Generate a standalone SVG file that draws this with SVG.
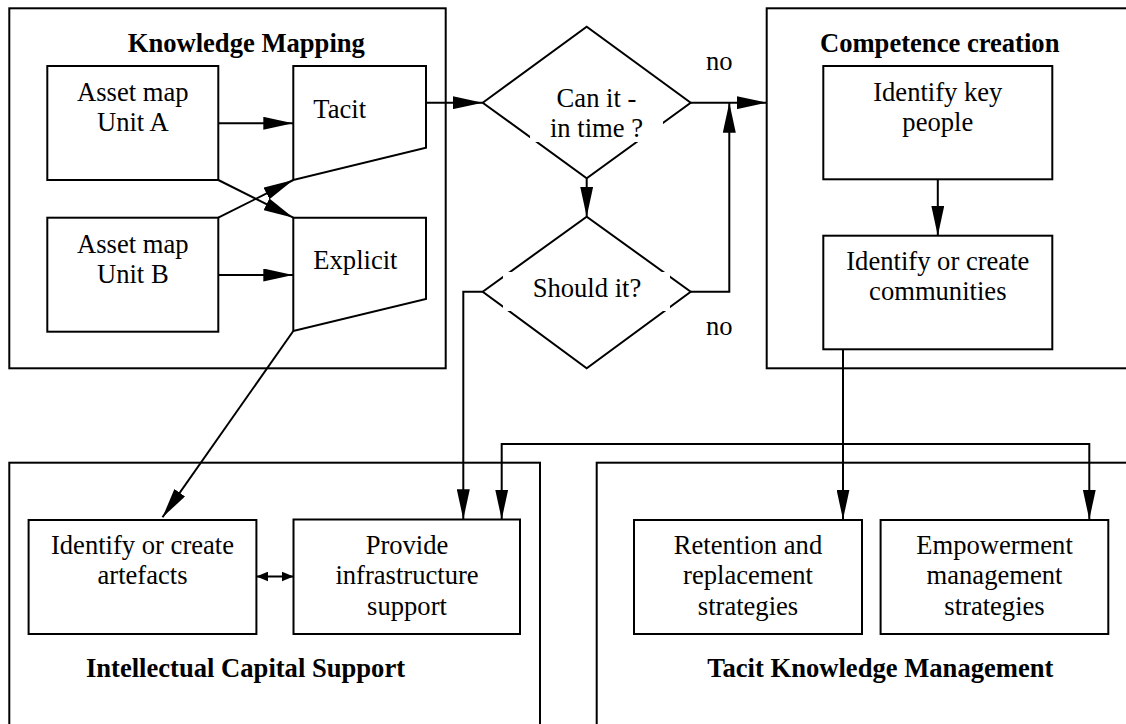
<svg xmlns="http://www.w3.org/2000/svg" width="1126" height="724" viewBox="0 0 1126 724">
  <defs>
    <marker id="arrow" viewBox="0 0 30 13" markerWidth="30" markerHeight="13" refX="30" refY="6.5" orient="auto-start-reverse" markerUnits="userSpaceOnUse">
      <path d="M0,0 L30,6.5 L0,13 Z" fill="#000"/>
    </marker>
    <marker id="arrowSmall" viewBox="0 0 12 10" markerWidth="12" markerHeight="10" refX="12" refY="5" orient="auto-start-reverse" markerUnits="userSpaceOnUse">
      <path d="M0,0 L12,5 L0,10 Z" fill="#000"/>
    </marker>
    <style>
      .frame { fill: none; stroke: #000; stroke-width: 2; }
      .box { fill: #fff; stroke: #000; stroke-width: 2; }
      .mask { fill: #fff; stroke: none; }
      .title { font-family: "Liberation Serif", "Times New Roman", serif; font-size: 26.6px; font-weight: bold; text-anchor: middle; fill: #000; }
      .label { font-family: "Liberation Serif", "Times New Roman", serif; font-size: 26.6px; text-anchor: middle; fill: #000; }
      .left { text-anchor: start; }
      .conn { fill: none; stroke: #000; stroke-width: 2; }
    </style>
  </defs>

  <rect width="1126" height="724" fill="#fff"/>

  <!-- Group frames -->
  <g id="knowledge-mapping">
    <rect class="frame" x="9.3" y="8.3" width="436.4" height="360"/>
    <text class="title" x="246.3" y="51.7">Knowledge Mapping</text>
  </g>
  <g id="competence-creation">
    <rect class="frame" x="766.7" y="8.3" width="400" height="360"/>
    <text class="title" x="939.7" y="51.7">Competence creation</text>
  </g>
  <g id="intellectual-capital-support">
    <rect class="frame" x="9.3" y="462.7" width="530.7" height="300"/>
    <text class="title" x="245.5" y="676.7">Intellectual Capital Support</text>
  </g>
  <g id="tacit-knowledge-management">
    <rect class="frame" x="596.7" y="462.7" width="600" height="300"/>
    <text class="title" x="880.3" y="676.7">Tacit Knowledge Management</text>
  </g>

  <!-- Knowledge mapping nodes -->
  <g id="asset-map-a">
    <rect class="box" x="47.3" y="66" width="171" height="114"/>
    <text class="label" x="132.8" y="101">Asset map</text>
    <text class="label" x="132.8" y="131">Unit A</text>
  </g>
  <g id="asset-map-b">
    <rect class="box" x="47.3" y="217.7" width="171" height="114"/>
    <text class="label" x="132.8" y="252.5">Asset map</text>
    <text class="label" x="132.8" y="283">Unit B</text>
  </g>
  <g id="tacit">
    <polygon class="box" points="293.3,66 426,66 426,147.7 293.3,180"/>
    <text class="label left" x="313.3" y="118.3">Tacit</text>
  </g>
  <g id="explicit">
    <polygon class="box" points="293.3,217.7 426,217.7 426,299 293.3,331"/>
    <text class="label left" x="313.3" y="269.3">Explicit</text>
  </g>

  <!-- Decisions -->
  <g id="can-it-in-time">
    <polygon class="box" points="482.7,102.7 586.7,26.7 690.7,102.7 586.7,178.3"/>
    <rect class="mask" x="530" y="85" width="133" height="57"/>
    <text class="label" x="596.5" y="107.3">Can it -</text>
    <text class="label" x="596.5" y="137">in time ?</text>
  </g>
  <g id="should-it">
    <polygon class="box" points="482.7,291.7 586.7,216.7 690.7,291.7 586.7,368.3"/>
    <rect class="mask" x="503" y="272" width="167" height="39"/>
    <text class="label" x="587" y="297.3">Should it?</text>
  </g>

  <!-- Competence creation nodes -->
  <g id="identify-key-people">
    <rect class="box" x="823.3" y="66" width="229" height="113.3"/>
    <text class="label" x="937.8" y="100.5">Identify key</text>
    <text class="label" x="937.8" y="130.5">people</text>
  </g>
  <g id="identify-communities">
    <rect class="box" x="823.3" y="235.7" width="229" height="113.6"/>
    <text class="label" x="937.8" y="269.5">Identify or create</text>
    <text class="label" x="937.8" y="300">communities</text>
  </g>

  <!-- Intellectual capital support nodes -->
  <g id="identify-artefacts">
    <rect class="box" x="28.6" y="520" width="227.8" height="114"/>
    <text class="label" x="142.5" y="554">Identify or create</text>
    <text class="label" x="142.5" y="584">artefacts</text>
  </g>
  <g id="provide-infrastructure">
    <rect class="box" x="293.5" y="519.5" width="226.5" height="114.5"/>
    <text class="label" x="407" y="554">Provide</text>
    <text class="label" x="407" y="584">infrastructure</text>
    <text class="label" x="407" y="615">support</text>
  </g>

  <!-- Tacit knowledge management nodes -->
  <g id="retention-strategies">
    <rect class="box" x="634" y="520" width="228" height="114"/>
    <text class="label" x="748" y="554">Retention and</text>
    <text class="label" x="748" y="584">replacement</text>
    <text class="label" x="748" y="615">strategies</text>
  </g>
  <g id="empowerment-strategies">
    <rect class="box" x="880.6" y="520" width="227.7" height="114"/>
    <text class="label" x="994.5" y="554">Empowerment</text>
    <text class="label" x="994.5" y="584">management</text>
    <text class="label" x="994.5" y="615">strategies</text>
  </g>

  <!-- Connectors -->
  <g id="connectors">
    <line class="conn" x1="218.3" y1="123.3" x2="293.3" y2="123.3" marker-end="url(#arrow)"/>
    <line class="conn" x1="218.3" y1="275" x2="293.3" y2="275" marker-end="url(#arrow)"/>
    <line class="conn" x1="218.3" y1="180" x2="293.3" y2="217.7" marker-end="url(#arrow)"/>
    <line class="conn" x1="218.3" y1="217.7" x2="293.3" y2="180" marker-end="url(#arrow)"/>
    <line class="conn" x1="426" y1="102.7" x2="482.7" y2="102.7" marker-end="url(#arrow)"/>
    <line class="conn" x1="293.3" y1="331" x2="162.5" y2="517.3" marker-end="url(#arrow)"/>
    <line class="conn" x1="586.7" y1="178.3" x2="586.7" y2="216.7" marker-end="url(#arrow)"/>
    <line class="conn" x1="690.7" y1="102.7" x2="766.7" y2="102.7" marker-end="url(#arrow)"/>
    <path class="conn" d="M690.7,291.7 H729.3 V102.7" marker-end="url(#arrow)"/>
    <text class="label" x="719.3" y="70">no</text>
    <text class="label" x="719.3" y="335">no</text>
    <path class="conn" d="M482.7,291.7 H463.3 V519.3" marker-end="url(#arrow)"/>
    <line class="conn" x1="937.8" y1="179.3" x2="937.8" y2="235.7" marker-end="url(#arrow)"/>
    <line class="conn" x1="843" y1="349.3" x2="843" y2="519.5" marker-end="url(#arrow)"/>
    <path class="conn" d="M501.7,519.5 V444 H1089.3 V519.5" marker-start="url(#arrow)" marker-end="url(#arrow)"/>
    <line class="conn" x1="256.4" y1="576.5" x2="293.5" y2="576.5" marker-start="url(#arrowSmall)" marker-end="url(#arrowSmall)"/>
  </g>
</svg>
